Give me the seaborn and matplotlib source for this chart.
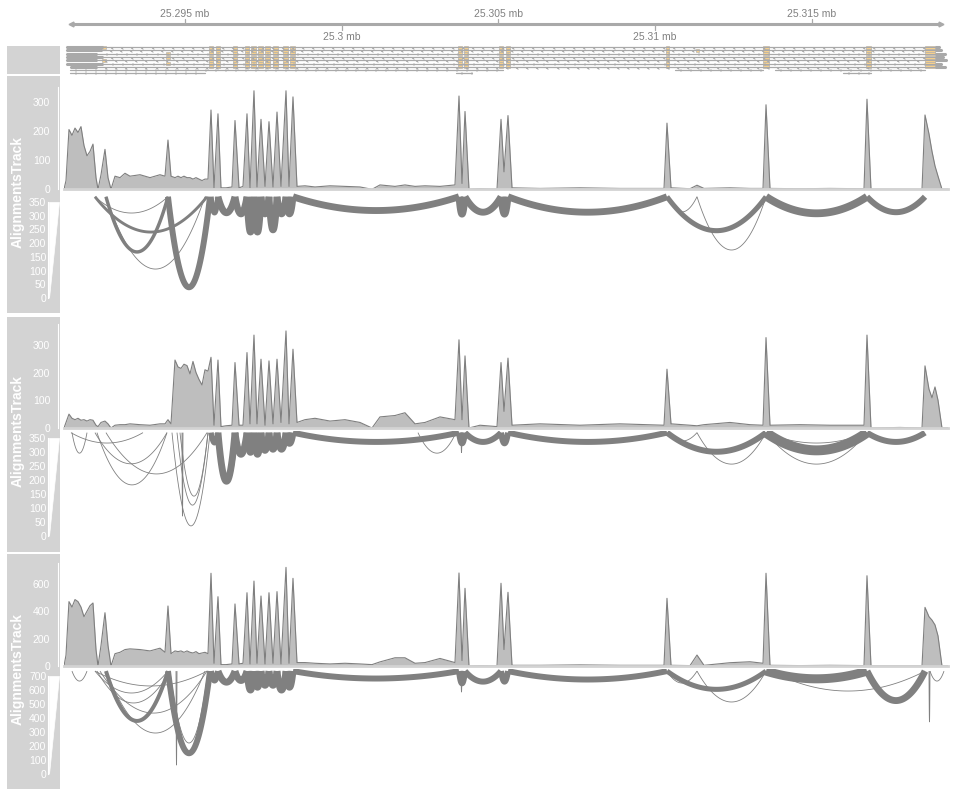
import numpy as np
import pandas as pd
import matplotlib
matplotlib.use("Agg")
import matplotlib.pyplot as plt
import matplotlib.transforms as mtransforms
from matplotlib.patches import Polygon, Rectangle
import seaborn as sns

# ---------------- data (genomic positions in bp) ----------------
region = (25291138, 25319355)
axis_span = (25291361, 25319127)
ticks_above = [25295000, 25305000, 25315000]
ticks_below = [25300000, 25310000]

# coverage breakpoints shared by the three samples
cov_pos = [25291138, 25291202, 25291297, 25291393, 25291489, 25291585, 25291680, 25291776, 25291872, 25291968,
           25292063, 25292159, 25292223, 25292319, 25292446, 25292542, 25292638, 25292766, 25292925, 25293085,
           25293244, 25293564, 25293883, 25294202, 25294362, 25294457, 25294553, 25294681, 25294777, 25294872,
           25294968, 25295064, 25295160, 25295255, 25295351, 25295447, 25295543, 25295638, 25295734, 25295830,
           25295926, 25296053, 25296149, 25296309, 25296500, 25296596, 25296724, 25296851, 25296979, 25297075,
           25297202, 25297298, 25297426, 25297554, 25297681, 25297809, 25297937, 25298064, 25298224, 25298320,
           25298447, 25298575, 25298830, 25299150, 25299628, 25300107, 25300586, 25300969, 25301224, 25301703,
           25302022, 25302342, 25302661, 25303140, 25303618, 25303746, 25303842, 25303938, 25304065, 25304416,
           25304959, 25305087, 25305182, 25305310, 25305438, 25306332, 25307608, 25308885, 25310290, 25310385,
           25310513, 25311120, 25311343, 25311566, 25312396, 25313035, 25313450, 25313546, 25313673, 25314631,
           25315588, 25316674, 25316769, 25316897, 25317823, 25318525, 25318621, 25318748, 25318844, 25318940,
           25319036, 25319163, 25319355]
cov_s1 = [0, 30, 205, 185, 210, 195, 215, 150, 115, 130,
          155, 40, 0, 50, 137, 40, 0, 45, 40, 55,
          45, 50, 40, 50, 45, 169, 45, 40, 45, 40,
          45, 40, 40, 35, 40, 35, 30, 35, 35, 272,
          5, 259, 5, 5, 8, 236, 5, 10, 259, 5,
          338, 8, 240, 10, 232, 8, 265, 10, 338, 10,
          317, 10, 12, 8, 12, 10, 8, 0, 15, 10,
          15, 10, 12, 10, 15, 320, 20, 267, 0, 2,
          0, 240, 60, 253, 5, 3, 5, 3, 3, 227,
          5, 2, 14, 3, 5, 3, 3, 290, 3, 2,
          3, 2, 309, 0, 0, 0, 255, 190, 130, 80,
          45, 0, 0]
cov_s2 = [0, 20, 50, 35, 30, 35, 28, 30, 25, 30,
          28, 10, 5, 20, 25, 15, 0, 10, 12, 12,
          15, 12, 10, 15, 15, 30, 15, 245, 220, 215,
          230, 225, 195, 240, 200, 175, 155, 210, 205, 255,
          10, 245, 5, 8, 10, 236, 10, 10, 272, 15,
          335, 15, 248, 10, 242, 15, 248, 20, 350, 15,
          284, 20, 30, 35, 25, 30, 20, 0, 40, 45,
          55, 15, 20, 40, 30, 318, 30, 260, 0, 10,
          5, 236, 60, 252, 10, 15, 10, 15, 10, 212,
          15, 10, 8, 12, 20, 12, 10, 326, 10, 12,
          10, 10, 335, 0, 2, 0, 224, 140, 109, 148,
          100, 0, 0]
cov_s3 = [0, 80, 470, 430, 485, 470, 430, 360, 400, 440,
          460, 120, 0, 150, 389, 150, 0, 90, 100, 120,
          125, 120, 110, 130, 100, 438, 90, 110, 105, 110,
          100, 110, 100, 95, 105, 90, 95, 100, 90, 677,
          20, 506, 10, 10, 15, 453, 15, 20, 535, 15,
          620, 20, 511, 15, 535, 20, 543, 15, 720, 20,
          640, 25, 25, 20, 15, 20, 15, 10, 30, 60,
          60, 20, 25, 55, 25, 679, 40, 567, 0, 2,
          0, 604, 120, 538, 5, 5, 8, 5, 5, 494,
          5, 3, 80, 5, 24, 31, 20, 677, 5, 3,
          5, 3, 659, 0, 0, 0, 428, 360, 335, 300,
          220, 0, 0]
cov_ticks = [[0, 100, 200, 300], [0, 100, 200, 300], [0, 200, 400, 600]]

# splice junctions: start, end, arc bottom (sashimi scale), supporting reads
jx1_start = [25292127, 25292127, 25292478, 25292478, 25294457, 25295830, 25296053, 25296596, 25296979, 25297202,
             25297426, 25297681, 25297937, 25298224, 25298447, 25303746, 25303938, 25305087, 25305310, 25310385,
             25310385, 25311343, 25313546, 25316769]
jx1_end = [25294457, 25295702, 25294457, 25295638, 25295798, 25296053, 25296596, 25296979, 25297202, 25297426,
           25297681, 25297937, 25298224, 25298447, 25303746, 25303938, 25305087, 25305310, 25310385, 25313546,
           25311343, 25313546, 25316769, 25318621]
jx1_depth = [309, 240, 168, 106, 40, 310, 310, 306, 240, 240,
             306, 248, 306, 306, 318, 305, 312, 305, 312, 245,
             313, 175, 308, 312]
jx1_reads = [30, 160, 190, 30, 330, 300, 380, 380, 380, 380,
             380, 380, 380, 380, 380, 380, 380, 380, 380, 280,
             20, 20, 430, 330]

jx2_start = [25291393, 25291361, 25292127, 25292191, 25292478, 25294585, 25294745, 25294840, 25294904, 25295830,
             25296053, 25296053, 25296596, 25296979, 25297202, 25297426, 25297681, 25297937, 25298224, 25298447,
             25302437, 25303746, 25303810, 25303938, 25305087, 25305310, 25310385, 25310385, 25311343, 25313546,
             25313546, 25313546, 25316769]
jx2_end = [25291872, 25293659, 25294425, 25294425, 25295702, 25295798, 25295734, 25295734, 25294936, 25296053,
           25296596, 25296692, 25296979, 25297202, 25297426, 25297681, 25297937, 25298224, 25298447, 25303746,
           25303650, 25303938, 25303842, 25305087, 25305310, 25310385, 25313546, 25311343, 25313546, 25316769,
           25316769, 25316769, 25318621]
jx2_depth = [295, 331, 257, 182, 221, 36, 110, 142, 71, 332,
             195, 190, 291, 298, 291, 305, 309, 309, 330, 335,
             295, 330, 297, 335, 330, 335, 300, 338, 256, 305,
             331, 256, 335]
jx2_reads = [20, 20, 20, 20, 20, 20, 20, 20, 20, 300,
             380, 20, 380, 380, 380, 380, 380, 380, 380, 330,
             20, 330, 20, 330, 330, 330, 330, 20, 20, 550,
             20, 20, 330]

jx3_start = [25291393, 25292127, 25292191, 25292287, 25292478, 25292127, 25292478, 25294457, 25294521, 25294713,
             25295830, 25296053, 25296596, 25296979, 25297202, 25297426, 25297681, 25297937, 25298224, 25298447,
             25303746, 25303810, 25303938, 25305087, 25305310, 25310385, 25310385, 25311343, 25313546, 25313705,
             25316769, 25318748, 25318780]
jx3_end = [25291872, 25294457, 25294521, 25295702, 25295638, 25295702, 25294457, 25295798, 25295734, 25294745,
           25296053, 25296596, 25296979, 25297202, 25297426, 25297681, 25297937, 25298224, 25298447, 25303746,
           25303938, 25303842, 25305087, 25305310, 25310385, 25313546, 25311343, 25313546, 25316769, 25318621,
           25318621, 25318780, 25319227]
jx3_depth = [664, 579, 508, 436, 294, 629, 380, 150, 223, 66,
             668, 656, 668, 600, 620, 634, 634, 600, 620, 682,
             648, 586, 660, 660, 675, 605, 650, 515, 680, 593,
             525, 373, 664]
jx3_reads = [20, 20, 20, 20, 20, 20, 220, 330, 20, 20,
             330, 380, 380, 380, 380, 380, 380, 380, 380, 330,
             330, 20, 330, 330, 330, 280, 20, 20, 500, 20,
             380, 20, 20]

sash_ticks = [[0, 50, 100, 150, 200, 250, 300, 350],
              [0, 50, 100, 150, 200, 250, 300, 350],
              [0, 100, 200, 300, 400, 500, 600, 700]]

# gene model (transcripts stacked in rows)
exon_start = [25295766, 25295990, 25296532, 25296915, 25297107, 25297330, 25297554, 25297809, 25298128, 25298352,
              25303714, 25303906, 25305023, 25305246, 25310354, 25313450, 25316738, 25318621]
exon_end = [25295894, 25296117, 25296660, 25297043, 25297266, 25297490, 25297713, 25297969, 25298288, 25298511,
            25303842, 25304033, 25305151, 25305374, 25310449, 25313641, 25316897, 25318940]
tx_start = [25291202, 25291202, 25291202, 25291202, 25291202, 25291202, 25291329]
tx_utr_end = [25292383, 25292351, 25292191, 25292383, 25292191, 25292383, 25292191]
tx_end = [25319100, 25319163, 25319291, 25319227, 25319323, 25319163, 25319291]
extra_exon = [(25292351, 25292478, 0), (25292351, 25292478, 4), (25294394, 25294521, 2),
              (25294394, 25294521, 3), (25294394, 25294521, 5), (25311311, 25311407, 1)]
part_start = [25291329, 25310641, 25313833, 25291329, 25303650, 25316000]
part_end = [25305151, 25313450, 25318621, 25295638, 25304160, 25316897]
part_row = [7, 7, 7, 8, 8, 8]

# ---------------- style ----------------
sns.set_style("white")
plt.rcParams['font.family'] = ['Liberation Sans', 'DejaVu Sans']

W, H = 956, 796
PANEL = '#D3D3D3'
COV_FILL = '#BEBEBE'
COV_LINE = '#7F7F7F'
ARC = '#808080'
AXIS_COL = '#A9A9A9'
EXON = '#FFD58A'
TXT = '#808080'

fig = plt.figure(figsize=(W / 100, H / 100), dpi=100)


def px_rect(x0, y0, x1, y1):
    return [x0 / W, 1 - y1 / H, (x1 - x0) / W, (y1 - y0) / H]


def title_panel(y0, y1):
    a = fig.add_axes(px_rect(7, y0, 60, y1))
    a.set_facecolor(PANEL)
    a.set_xticks([])
    a.set_yticks([])
    for s in a.spines.values():
        s.set_visible(False)
    return a


# genome axis
ax = fig.add_axes(px_rect(64, 0, 948, 44))
ax.set_xlim(region)
ax.set_ylim(44, 0)
ax.axis('off')
ax.plot(axis_span, [24, 24], color=AXIS_COL, lw=2.2, solid_capstyle='butt')
ax.plot([axis_span[0]], [24], marker='<', ms=3.5, color=AXIS_COL)
ax.plot([axis_span[1]], [24], marker='>', ms=3.5, color=AXIS_COL)
for t in ticks_above:
    ax.plot([t, t], [18.5, 24], color=AXIS_COL, lw=0.9)
    ax.text(t, 14, f"{t / 1e6:g} mb", ha='center', va='center', fontsize=7.5, color=TXT)
for t in ticks_below:
    ax.plot([t, t], [24, 29.5], color=AXIS_COL, lw=0.9)
    ax.text(t, 37.5, f"{t / 1e6:g} mb", ha='center', va='center', fontsize=7.5, color=TXT)

# gene track
title_panel(46, 74)
ag = fig.add_axes(px_rect(64, 44, 948, 76))
ag.set_xlim(region)
ag.set_ylim(76, 44)
ag.axis('off')
row_y = [47, 50.3, 53.6, 57, 60.3, 63.6, 66.9, 69.6, 72.6]
for r in range(len(tx_start)):
    y = row_y[r]
    ag.plot([tx_start[r], tx_end[r]], [y, y], color=AXIS_COL, lw=0.9)
    ag.plot([tx_start[r], tx_utr_end[r]], [y, y], color=AXIS_COL, lw=2.2, solid_capstyle='butt')
    ag.plot([exon_end[-1], tx_end[r]], [y, y], color=AXIS_COL, lw=2.2, solid_capstyle='butt')
    marks = np.arange(tx_utr_end[r] + 300, exon_start[-1], 320)
    ag.plot(marks, np.full(len(marks), y + 0.6), ls='', marker='3', ms=2.2, mew=0.6, color=AXIS_COL)
    for s, e in zip(exon_start, exon_end):
        ag.add_patch(Rectangle((s, y - 1.5), e - s, 3, fc=EXON, ec=AXIS_COL, lw=0.4))
for s, e, r in extra_exon:
    ag.add_patch(Rectangle((s, row_y[r] - 1.5), e - s, 3, fc=EXON, ec=AXIS_COL, lw=0.4))
for s, e, r in zip(part_start, part_end, part_row):
    ag.plot([s, e], [row_y[r], row_y[r]], color=AXIS_COL, lw=0.9)
    marks = np.arange(s + 150, e, 320)
    ag.plot(marks, np.full(len(marks), row_y[r] + 0.6), ls='', marker='3', ms=2.2, mew=0.6, color=AXIS_COL)

# alignment panels
panels = [
    dict(top=76, bottom=313, cov_top=86.7, base=189.3, cov_max=352, zero_y=298.3, lab_y=201.7, lab_max=350,
         arc_top=368, cov=cov_s1, js=jx1_start, je=jx1_end, jd=jx1_depth, jr=jx1_reads),
    dict(top=316.5, bottom=552, cov_top=324, base=428, cov_max=375, zero_y=536, lab_y=437.7, lab_max=350,
         arc_top=368, cov=cov_s2, js=jx2_start, je=jx2_end, jd=jx2_depth, jr=jx2_reads),
    dict(top=554, bottom=789, cov_top=563, base=666, cov_max=752, zero_y=774.3, lab_y=676, lab_max=700,
         arc_top=735, cov=cov_s3, js=jx3_start, je=jx3_end, jd=jx3_depth, jr=jx3_reads),
]

t = np.linspace(0, 1, 80)
for i, p in enumerate(panels):
    title_panel(p['top'], p['bottom'])

    # coverage
    axc = fig.add_axes(px_rect(64, p['cov_top'], 948, p['base']))
    axc.patch.set_visible(False)
    df = pd.DataFrame({'pos': cov_pos, 'cov': p['cov']})
    axc.fill_between(df['pos'], df['cov'], color=COV_FILL, lw=0)
    sns.lineplot(data=df, x='pos', y='cov', ax=axc, color=COV_LINE, lw=0.8, sort=False, estimator=None)
    axc.set_xlim(region)
    axc.set_ylim(0, p['cov_max'])
    axc.set_xlabel('')
    axc.set_ylabel('')
    axc.set_xticks([])
    axc.set_yticks(cov_ticks[i])
    for s in ['top', 'right']:
        axc.spines[s].set_visible(False)
    axc.spines['bottom'].set_color(PANEL)
    axc.spines['bottom'].set_linewidth(2.0)
    axc.spines['left'].set_color('white')
    axc.spines['left'].set_linewidth(0.8)
    axc.spines['left'].set_position(('outward', 4.1))
    axc.tick_params(axis='y', colors='white', length=2.9, width=0.7, labelsize=7.5, pad=3.0)

    # sashimi arcs
    s_top = p['base'] + 2.7
    scale = p['lab_max'] / (p['zero_y'] - p['lab_y'])
    axs = fig.add_axes(px_rect(64, s_top, 948, p['bottom']))
    axs.patch.set_visible(False)
    axs.set_xlim(region)
    axs.set_ylim((p['zero_y'] - p['bottom']) * scale, (p['zero_y'] - s_top) * scale)
    for s0, e0, d0, r0 in zip(p['js'], p['je'], p['jd'], p['jr']):
        xs = s0 + (e0 - s0) * t
        ys = p['arc_top'] - (p['arc_top'] - d0) * 4 * t * (1 - t)
        sns.lineplot(x=xs, y=ys, ax=axs, color=ARC, lw=max(0.6, r0 * 0.013),
                     sort=False, estimator=None, solid_capstyle='butt')
    axs.set_xticks([])
    axs.set_yticks(sash_ticks[i])
    for s in ['top', 'right', 'bottom']:
        axs.spines[s].set_visible(False)
    axs.spines['left'].set_color('white')
    axs.spines['left'].set_linewidth(0.8)
    axs.spines['left'].set_position(('outward', 11.4))
    axs.spines['left'].set_bounds(0, p['lab_max'])
    axs.tick_params(axis='y', colors='white', length=2.9, width=0.7, labelsize=7.5, pad=-1.5)

    tr = mtransforms.blended_transform_factory(fig.transFigure, axs.transData)
    fig.add_artist(Polygon([[48.5 / W, 0], [48.5 / W, p['lab_max']], [59.3 / W, p['lab_max']]],
                           closed=True, transform=tr, fc='white', ec='white', lw=0.5))

    fig.text(17.5 / W, 1 - (p['base'] + 3) / H, 'AlignmentsTrack', rotation=90, ha='center', va='center',
             color='white', fontsize=10, fontweight='bold')

fig.savefig('out.png', dpi=100)
